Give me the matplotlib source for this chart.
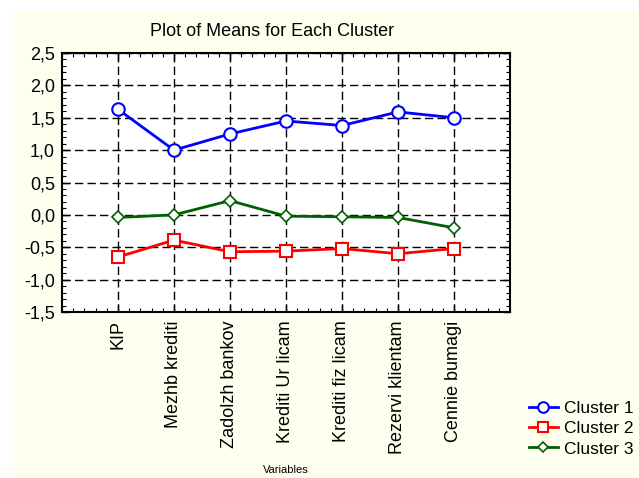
import matplotlib.pyplot as plt
from matplotlib.patches import Rectangle
from matplotlib.ticker import MultipleLocator, FixedLocator, FuncFormatter

plt.rcParams['font.family'] = ['Liberation Sans', 'DejaVu Sans']

variables = ['KIP', 'Mezhb krediti', 'Zadolzh bankov', 'Krediti Ur licam',
             'Krediti fiz licam', 'Rezervi klientam', 'Cennie bumagi']
cluster1 = [1.63, 1.00, 1.25, 1.45, 1.38, 1.59, 1.50]
cluster2 = [-0.65, -0.39, -0.57, -0.56, -0.52, -0.60, -0.52]
cluster3 = [-0.04, 0.00, 0.22, -0.02, -0.03, -0.04, -0.20]

fig = plt.figure(figsize=(6.39, 4.78), dpi=100, facecolor='white')
# cream panel behind the chart
fig.patches.append(Rectangle((14 / 639, 0), 1, 1 - 12 / 478, transform=fig.transFigure,
                             facecolor='#fffff0', edgecolor='none', zorder=-1))

ax = fig.add_axes([62 / 639, 1 - 312 / 478, 448 / 639, 259 / 478])
ax.set_facecolor('white')

x = list(range(1, len(variables) + 1))
ax.plot(x, cluster1, color='#0000ff', lw=2, marker='o', ms=9, mfc='white', mec='#0000ff', mew=1.5,
        label='Cluster 1', zorder=3)
ax.plot(x, cluster2, color='#ff0000', lw=2, marker='s', ms=9, mfc='white', mec='#ff0000', mew=1.5,
        label='Cluster 2', zorder=3)
ax.plot(x, cluster3, color='#006000', lw=2, marker='D', ms=6, mfc='white', mec='#006000', mew=1.2,
        label='Cluster 3', zorder=3)

ax.set_xlim(0, 8)
ax.set_ylim(-1.5, 2.5)
ax.xaxis.set_major_locator(FixedLocator(x))
ax.xaxis.set_minor_locator(MultipleLocator(0.2))
ax.yaxis.set_major_locator(MultipleLocator(0.5))
ax.yaxis.set_minor_locator(MultipleLocator(0.1))
ax.set_xticklabels(variables, rotation=90, fontsize=13)
ax.yaxis.set_major_formatter(FuncFormatter(lambda v, p: f'{v:.1f}'.replace('.', ',')))
ax.tick_params(axis='y', labelsize=13, direction='in', length=5, width=1, pad=5)
ax.tick_params(axis='x', direction='in', length=5, width=1, pad=6)
ax.tick_params(which='minor', direction='in', length=3, width=0.8)
ax.tick_params(top=True, right=True, which='both')
ax.grid(True, which='major', color='black', linestyle=(0, (6, 3)), lw=1)
for s in ax.spines.values():
    s.set_linewidth(1.5)

fig.text(272 / 639, 1 - 32 / 478, 'Plot of Means for Each Cluster', ha='center', va='center', fontsize=13)
fig.text(286 / 639, 1 - 470 / 478, 'Variables', ha='center', va='center', fontsize=8)

leg = fig.legend(loc='upper left', bbox_to_anchor=(520 / 639, 1 - 392 / 478), frameon=False,
                 fontsize=12.5, handlelength=1.7, handletextpad=0.35, labelspacing=0.3, borderpad=0)
for h in leg.legend_handles:
    h.set_markersize(h.get_markersize() * 0.85)

fig.savefig('out.png', dpi=100, facecolor=fig.get_facecolor())
